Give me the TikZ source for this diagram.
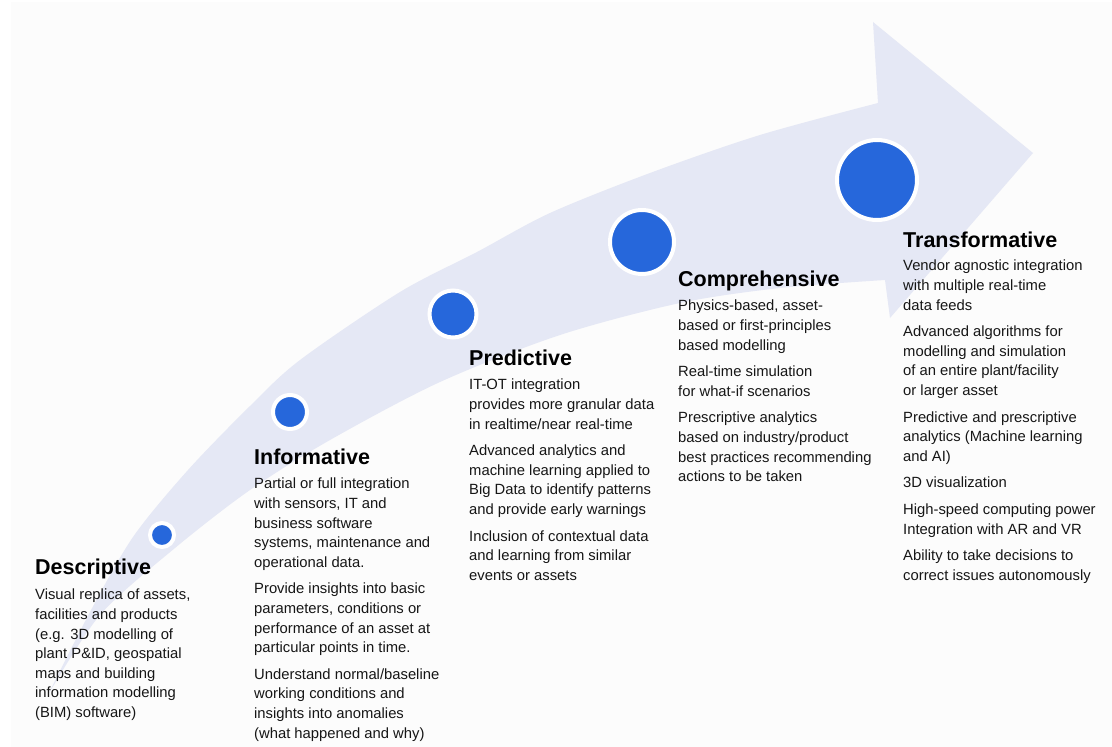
\documentclass[tikz,border=0pt]{standalone}
\usepackage{fontspec}
\setmainfont{Liberation Sans}
\usetikzlibrary{positioning}

\definecolor{pagebg}{RGB}{252,252,252}
\definecolor{bandcol}{RGB}{229,232,245}
\definecolor{dotblue}{RGB}{38,103,219}
\definecolor{inkcol}{RGB}{22,22,22}

\begin{document}
\begin{tikzpicture}[x=1bp, y=-1bp]
			% Define styles
			\tikzset{
				dot/.style={circle, fill=dotblue, draw=white, line width=4bp, inner sep=0pt},
				stagehead/.style={inner sep=0pt, font=\fontsize{21.5bp}{24bp}\selectfont\bfseries, text=black},
				stagebody/.style={inner sep=0pt, align=left, execute at begin node=\strut,
					font=\fontsize{14.8bp}{19.6bp}\selectfont, text=inkcol}
			}
			\useasboundingbox (0,0) rectangle (1112,747);
			\fill[white] (0,0) rectangle (1112,747);
			\fill[pagebg] (11,2) rectangle (1112,747);
			
			% The curved arrow
			\fill[bandcol] plot[smooth] coordinates {(48,695) (90,612) (133,537) (188,470) (250,406) (300,360) (400,292) (477,252) (550,213) (650,173) (760,135) (878,103)}
				-- (873,22) -- (1033,153) -- (890,318) -- (885,280)
				-- plot[smooth] coordinates {(885,280) (780,288) (680,303) (560,335) (440,382) (330,440) (250,490) (175,548) (100,615) (48,695)} -- cycle;
			
			% Dots along the arrow
			\foreach \n/\x/\y/\s in {1/162/535/24, 2/290/412/34, 3/453/314/47, 4/642/242/64, 5/877/180/80}
				\node[dot, minimum size=\s bp] (dot-\n) at (\x,\y) {};
			
			% Stage headings
			\foreach \n/\x/\y/\t in {1/35/574/Descriptive, 2/254/464/Informative, 3/469/365/Predictive, 4/678/286/Comprehensive, 5/903/247/Transformative}
				\node[stagehead, anchor=base west] (head-\n) at (\x,\y) {\t};
			
			% Stage texts
			\node[stagebody, below=15bp of head-1.base west, anchor=north west] (body-1) {Visual replica of assets,\\ facilities and products\\ (e.g. 3D modelling of\\ plant P\&ID, geospatial\\ maps and building\\ information modelling\\ (BIM) software)};
			\node[stagebody, below=14bp of head-2.base west, anchor=north west] (body-2) {Partial or full integration\\ with sensors, IT and\\ business software\\ systems, maintenance and\\ operational data.\\[7bp] Provide insights into basic\\ parameters, conditions or\\ performance of an asset at\\ particular points in time.\\[7bp] Understand normal/baseline\\ working conditions and\\ insights into anomalies\\ (what happened and why)};
			\node[stagebody, below=14bp of head-3.base west, anchor=north west] (body-3) {IT-OT integration\\ provides more granular data\\ in realtime/near real-time\\[7bp] Advanced analytics and\\ machine learning applied to\\ Big Data to identify patterns\\ and provide early warnings\\[7bp] Inclusion of contextual data\\ and learning from similar\\ events or assets};
			\node[stagebody, below=14bp of head-4.base west, anchor=north west] (body-4) {Physics-based, asset-\\ based or first-principles\\ based modelling\\[7bp] Real-time simulation\\ for what-if scenarios\\[7bp] Prescriptive analytics\\ based on industry/product\\ best practices recommending\\ actions to be taken};
			\node[stagebody, below=13bp of head-5.base west, anchor=north west] (body-5) {Vendor agnostic integration\\ with multiple real-time\\ data feeds\\[7bp] Advanced algorithms for\\ modelling and simulation\\ of an entire plant/facility\\ or larger asset\\[7bp] Predictive and prescriptive\\ analytics (Machine learning\\ and AI)\\[7bp] 3D visualization\\[7bp] High-speed computing power\\ Integration with AR and VR\\[7bp] Ability to take decisions to\\ correct issues autonomously};
		\end{tikzpicture}
\end{document}
